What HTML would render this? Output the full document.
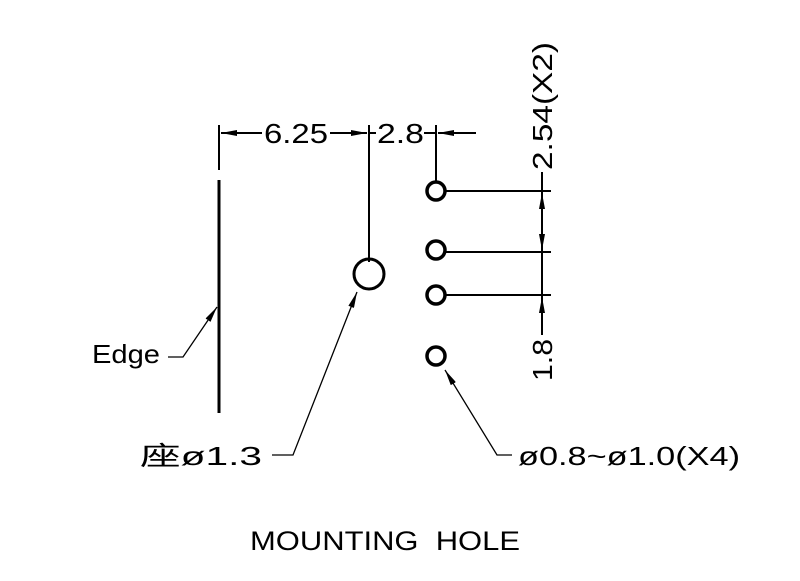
<!DOCTYPE html>
<html><head><style>html,body{margin:0;padding:0;background:#fff}</style></head>
<body>
<svg width="800" height="576" xmlns="http://www.w3.org/2000/svg" font-family="Liberation Sans, Noto Sans CJK SC, sans-serif" fill="none" stroke="#000">
<defs>
<marker id="a" viewBox="0 0 16 6" refX="16" refY="3" markerWidth="16" markerHeight="6" markerUnits="userSpaceOnUse" orient="auto"><path d="M0,0L16,3L0,6z" fill="#000" stroke="none"/></marker>
</defs>
<line x1="219" y1="125" x2="219" y2="170" stroke-width="2"/>
<line x1="219" y1="180" x2="219" y2="413" stroke-width="3"/>
<line x1="262" y1="133" x2="221" y2="133" stroke-width="2" marker-end="url(#a)"/>
<line x1="330" y1="133" x2="367" y2="133" stroke-width="2" marker-end="url(#a)"/>
<line x1="369" y1="125" x2="369" y2="262" stroke-width="2"/>
<line x1="369" y1="133" x2="376" y2="133" stroke-width="2"/>
<line x1="424" y1="133" x2="436" y2="133" stroke-width="2"/>
<line x1="436" y1="125" x2="436" y2="182" stroke-width="2"/>
<line x1="476" y1="133" x2="438" y2="133" stroke-width="2" marker-end="url(#a)"/>
<g font-size="28" fill="#000" stroke="none">
<text x="264" y="143" textLength="64" lengthAdjust="spacingAndGlyphs">6.25</text>
<text x="377" y="143" textLength="47" lengthAdjust="spacingAndGlyphs">2.8</text>
</g>
<circle cx="369" cy="274" r="15" stroke-width="3"/>
<circle cx="436" cy="191" r="9" stroke-width="3.5"/>
<circle cx="436" cy="250" r="9" stroke-width="3.5"/>
<circle cx="436" cy="295" r="9" stroke-width="3.5"/>
<circle cx="436" cy="356" r="9" stroke-width="3.5"/>
<line x1="446" y1="191" x2="551" y2="191" stroke-width="2"/>
<line x1="446" y1="252" x2="551" y2="252" stroke-width="2"/>
<line x1="446" y1="295" x2="551" y2="295" stroke-width="2"/>
<line x1="542" y1="172" x2="542" y2="335" stroke-width="2"/>
<line x1="542" y1="222" x2="542" y2="193" stroke-width="2" marker-end="url(#a)"/>
<line x1="542" y1="222" x2="542" y2="250" stroke-width="2" marker-end="url(#a)"/>
<line x1="542" y1="335" x2="542" y2="297" stroke-width="2" marker-end="url(#a)"/>
<g font-size="28" fill="#000" stroke="none">
<text transform="translate(552,170) rotate(-90)" textLength="128" lengthAdjust="spacingAndGlyphs">2.54(X2)</text>
<text transform="translate(552,381) rotate(-90)" textLength="42" lengthAdjust="spacingAndGlyphs">1.8</text>
</g>
<polyline points="168,357 183,357 217,307" stroke-width="1.3" marker-end="url(#a)"/>
<polyline points="272,455 293,455 357,292" stroke-width="1.3" marker-end="url(#a)"/>
<polyline points="512,455 497,455 445,370" stroke-width="1.3" marker-end="url(#a)"/>
<g font-size="26" fill="#000" stroke="none">
<text x="92" y="363" textLength="68" lengthAdjust="spacingAndGlyphs">Edge</text>
<text x="140" y="465" textLength="122" lengthAdjust="spacingAndGlyphs">座ø1.3</text>
<text x="518" y="465" textLength="222" lengthAdjust="spacingAndGlyphs">ø0.8~ø1.0(X4)</text>
<text x="250" y="550" font-size="27" textLength="270" lengthAdjust="spacingAndGlyphs">MOUNTING&#160;&#160;HOLE</text>
</g>
</svg>
</body></html>
